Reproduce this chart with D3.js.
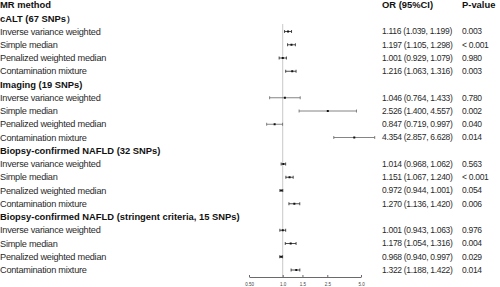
<!DOCTYPE html>
<html>
<head>
<meta charset="utf-8">
<script src="https://cdn.jsdelivr.net/npm/d3@7"></script>
<style>
  body { margin: 0; background: #fff; }
  svg { display: block; font-family: "Liberation Sans", Arial, sans-serif; }
</style>
</head>
<body>
<div id="chart"></div>
<script>
const width = 500;
const height = 287;

// groups of the forest plot
const groups = [
  "cALT (67 SNPs\uFF09",
  "Imaging (19 SNPs)",
  "Biopsy-confirmed NAFLD (32 SNPs)",
  "Biopsy-confirmed NAFLD (stringent criteria, 15 SNPs)"
];
const methods = ["Inverse variance weighted", "Simple median", "Penalized weighted median", "Contamination mixture"];

// OR, lower, upper per group (same order as methods)
const orValues = [
  [1.116, 1.197, 1.001, 1.216],
  [1.046, 2.526, 0.847, 4.354],
  [1.014, 1.151, 0.972, 1.270],
  [1.001, 1.178, 0.968, 1.322]
];
const lowerCI = [
  [1.039, 1.105, 0.929, 1.063],
  [0.764, 1.400, 0.719, 2.857],
  [0.968, 1.067, 0.944, 1.136],
  [0.943, 1.054, 0.940, 1.188]
];
const upperCI = [
  [1.199, 1.298, 1.079, 1.316],
  [1.433, 4.557, 0.997, 6.628],
  [1.062, 1.240, 1.001, 1.420],
  [1.063, 1.316, 0.997, 1.422]
];
const pValues = [
  ["0.003", "< 0.001", "0.980", "0.003"],
  ["0.780", "0.002", "0.040", "0.014"],
  ["0.563", "< 0.001", "0.054", "0.006"],
  ["0.976", "0.004", "0.029", "0.014"]
];
const tickValues = [0.5, 1.0, 1.5, 2.5, 5.0];
const tickLabels = ["0.50", "1.0", "1.5", "2.5", "5.0"];

// flatten into rows: header row per group, then one row per method
let rows = [];
groups.forEach((g, gi) => {
  rows.push({ type: "group", label: g });
  methods.forEach((m, mi) => {
    rows.push({
      type: "item",
      label: m,
      or: orValues[gi][mi],
      lo: lowerCI[gi][mi],
      hi: upperCI[gi][mi],
      p: pValues[gi][mi],
      faded: gi === 1
    });
  });
});

const svg = d3.select("#chart").append("svg")
  .attr("width", width)
  .attr("height", height);

// row 0 is the column header
const y = d3.scaleLinear().domain([0, 20]).range([5, 270]);
const x = d3.scaleLog().domain([0.5, 5]).range([249, 361]);

const textColor = "#111";
const colOR = 382;
const colP = 462;

function boldText(xx, yy, s) {
  svg.append("text").attr("x", xx).attr("y", yy).attr("dy", "0.35em")
    .attr("font-size", 9.4).attr("font-weight", "bold").attr("fill", textColor)
    .text(s);
}
function plainText(xx, yy, s, size, ls) {
  svg.append("text").attr("x", xx).attr("y", yy).attr("dy", "0.35em")
    .attr("font-size", size).attr("letter-spacing", ls).attr("fill", "#2a2a2a")
    .text(s);
}

// headers
boldText(0, y(0), "MR method");
boldText(colOR, y(0), "OR (95%CI)");
boldText(colP, y(0), "P-value");

// reference line at OR = 1
svg.append("line")
  .attr("x1", x(1)).attr("x2", x(1))
  .attr("y1", 24).attr("y2", 277)
  .attr("stroke", "#c8c8c8").attr("stroke-width", 1);

rows.forEach((d, i) => {
  const yy = y(i + 1);
  if (d.type === "group") {
    boldText(0, yy, d.label);
    return;
  }
  plainText(0, yy, d.label, 9.2, -0.25);
  plainText(colOR, yy, `${d.or.toFixed(3)} (${d.lo.toFixed(3)}, ${d.hi.toFixed(3)})`, 8.5, -0.3);
  plainText(colP, yy, d.p, 8.5, -0.3);

  const col = d.faded ? "#666" : "#222";
  const g = svg.append("g");
  g.append("line")
    .attr("x1", x(d.lo)).attr("x2", x(d.hi))
    .attr("y1", yy).attr("y2", yy)
    .attr("stroke", col).attr("stroke-width", 0.8);
  [d.lo, d.hi].forEach(v => {
    g.append("line")
      .attr("x1", x(v)).attr("x2", x(v))
      .attr("y1", yy - 1.5).attr("y2", yy + 1.5)
      .attr("stroke", col).attr("stroke-width", 0.8);
  });
  g.append("rect")
    .attr("x", x(d.or) - 1).attr("y", yy - 1)
    .attr("width", 2).attr("height", 2)
    .attr("fill", "#111");
});

// x axis (log scale)
const axis = d3.axisBottom(x)
  .tickValues(tickValues)
  .tickFormat((d, i) => tickLabels[i])
  .tickSizeInner(-2)
  .tickSizeOuter(0)
  .tickPadding(6);

const ax = svg.append("g")
  .attr("transform", "translate(0,277)")
  .call(axis);
ax.select(".domain").attr("stroke", "#444").attr("stroke-width", 0.8);
ax.selectAll(".tick line").attr("stroke", "#444").attr("stroke-width", 0.8);
ax.selectAll(".tick text")
  .attr("font-size", 4.5)
  .attr("font-family", "Liberation Sans, Arial, sans-serif")
  .attr("fill", "#444");
</script>
</body>
</html>
